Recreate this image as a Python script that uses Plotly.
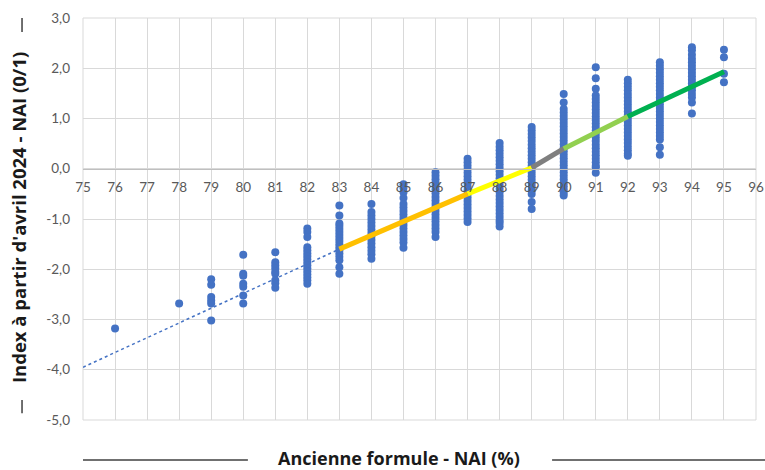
import plotly.graph_objects as go

# ---- data ----
col_76 = [-3.18]
col_78 = [-2.68]
col_79 = [-2.20, -2.31, -2.55, -2.62, -2.68, -3.02]
col_80 = [-1.71, -2.09, -2.13, -2.29, -2.35, -2.52, -2.68]
col_81 = [-1.66, -1.86, -1.92, -1.98, -2.05, -2.09, -2.22, -2.28, -2.37]
col_82 = [-1.19, -1.26, -1.36, -1.56, -1.62, -1.68, -1.74, -1.80, -1.86, -1.92,
          -1.98, -2.04, -2.10, -2.16, -2.22, -2.29]
col_83 = [-0.73, -0.93, -1.09, -1.14, -1.20, -1.26, -1.32, -1.38, -1.44, -1.50,
          -1.56, -1.62, -1.68, -1.75, -1.82, -1.96, -2.09]
col_84 = [-0.70, -0.86, -0.93, -1.00, -1.07, -1.14, -1.21, -1.28, -1.35, -1.42,
          -1.49, -1.56, -1.63, -1.70, -1.79]
col_85 = [-0.31, -0.38, -0.47, -0.58, -0.70, -0.77, -0.84, -0.91, -0.98, -1.05,
          -1.12, -1.19, -1.26, -1.33, -1.40, -1.47, -1.57]
col_86 = [-0.07, -0.14, -0.21, -0.28, -0.35, -0.42, -0.49, -0.56, -0.63, -0.70,
          -0.77, -0.84, -0.91, -0.98, -1.05, -1.12, -1.19, -1.26, -1.36]
col_87 = [0.20, 0.13, 0.06, -0.01, -0.08, -0.15, -0.22, -0.29, -0.36, -0.43,
          -0.50, -0.57, -0.64, -0.71, -0.78, -0.85, -0.92, -0.99, -1.06]
col_88 = [0.51, 0.44, 0.37, 0.30, 0.23, 0.16, 0.09, 0.02, -0.05, -0.12, -0.19,
          -0.26, -0.33, -0.40, -0.47, -0.54, -0.61, -0.68, -0.75, -0.82, -0.89,
          -0.96, -1.03, -1.08, -1.15]
col_89 = [0.83, 0.76, 0.69, 0.62, 0.55, 0.48, 0.41, 0.34, 0.27, 0.20, 0.13, 0.06,
          -0.01, -0.08, -0.15, -0.22, -0.29, -0.36, -0.43, -0.50, -0.66, -0.80]
col_90 = [1.49, 1.32, 1.19, 1.12, 1.05, 0.98, 0.91, 0.84, 0.77, 0.70, 0.63, 0.56,
          0.49, 0.42, 0.35, 0.28, 0.21, 0.14, 0.07, 0.00, -0.07, -0.14, -0.21,
          -0.28, -0.35, -0.42, -0.48, -0.53]
col_91 = [2.02, 1.80, 1.59, 1.46, 1.39, 1.32, 1.25, 1.18, 1.11, 1.04, 0.97, 0.90,
          0.83, 0.76, 0.69, 0.62, 0.55, 0.48, 0.41, 0.34, 0.27, 0.20, 0.13, 0.06,
          0.03, -0.08]
col_92 = [1.77, 1.70, 1.63, 1.56, 1.49, 1.42, 1.35, 1.28, 1.21, 1.14, 1.07, 1.00,
          0.93, 0.86, 0.79, 0.72, 0.65, 0.58, 0.51, 0.44, 0.37, 0.30, 0.26]
col_93 = [2.12, 2.05, 1.98, 1.91, 1.84, 1.77, 1.70, 1.63, 1.56, 1.49, 1.42, 1.35,
          1.28, 1.21, 1.14, 1.07, 1.00, 0.93, 0.86, 0.79, 0.72, 0.65, 0.58, 0.43,
          0.28]
col_94 = [2.42, 2.36, 2.27, 2.19, 2.12, 2.05, 1.98, 1.91, 1.84, 1.77, 1.70, 1.63,
          1.56, 1.49, 1.42, 1.32, 1.10]
col_95 = [2.37, 2.22, 1.89, 1.72]

column_x = [76, 78, 79, 80, 81, 82, 83, 84, 85, 86, 87, 88, 89, 90, 91, 92, 93, 94, 95]
column_y = [col_76, col_78, col_79, col_80, col_81, col_82, col_83, col_84, col_85,
            col_86, col_87, col_88, col_89, col_90, col_91, col_92, col_93, col_94,
            col_95]

# dotted trend line (left part)
trend_x = [75, 83]
trend_y = [-3.95, -1.60]

# coloured segments
seg_x = [83, 87, 89, 90, 92, 95]
seg_y = [-1.60, -0.50, 0.02, 0.40, 1.04, 1.93]
seg_colors = ["#FFC000", "#FFFF00", "#7F7F7F", "#92D050", "#00B050"]

x_ticks = list(range(75, 97))
x_ticktext = [str(v) for v in x_ticks]
y_ticks = [-5, -4, -3, -2, -1, 0, 1, 2, 3]
y_ticktext = ["-5,0", "-4,0", "-3,0", "-2,0", "-1,0", "0,0", "1,0", "2,0", "3,0"]

x_title = "Ancienne formule - NAI (%)"
y_title = "Index à partir d'avril 2024 - NAI (0/1)"

# ---- figure ----
fig = go.Figure()

px, py = [], []
for xv, ys in zip(column_x, column_y):
    px.extend([xv] * len(ys))
    py.extend(ys)

fig.add_trace(go.Scatter(x=px, y=py, mode="markers",
                         marker=dict(size=8, color="#4472C4"),
                         showlegend=False, hoverinfo="skip"))

fig.add_trace(go.Scatter(x=trend_x, y=trend_y, mode="lines",
                         line=dict(color="#4472C4", width=1.5, dash="dot"),
                         showlegend=False, hoverinfo="skip"))

for i, c in enumerate(seg_colors):
    fig.add_trace(go.Scatter(x=seg_x[i:i + 2], y=seg_y[i:i + 2], mode="lines",
                             line=dict(color=c, width=5),
                             showlegend=False, hoverinfo="skip"))

tick_font = dict(family="Lato", size=13.5, color="#595959")
title_font = dict(family="Open Sans", size=18, color="#1A1A1A")
ytitle_font = dict(family="Open Sans", size=18.5, color="#1A1A1A")

fig.update_layout(
    width=765, height=470,
    margin=dict(l=83, r=9, t=18, b=50),
    plot_bgcolor="white", paper_bgcolor="white",
    xaxis=dict(range=[75, 96], tickvals=x_ticks, ticktext=x_ticktext,
               showgrid=True, gridcolor="#D9D9D9", gridwidth=1,
               zeroline=False, anchor="free", position=0.625,
               showline=True, linecolor="#BFBFBF", linewidth=1,
               ticks="", tickfont=tick_font, ticklabelstandoff=6,
               ticklabeloverflow="allow", automargin=False),
    yaxis=dict(range=[-5, 3], tickvals=y_ticks, ticktext=y_ticktext,
               showgrid=True, gridcolor="#D9D9D9", gridwidth=1,
               zeroline=False, ticks="", tickfont=tick_font,
               ticklabelstandoff=12, domain=[0, 1], automargin=False),
    shapes=[
        dict(type="rect", xref="paper", yref="paper", x0=0, x1=1, y0=0, y1=1,
             line=dict(color="#D9D9D9", width=1), layer="below"),
        dict(type="line", xref="paper", yref="paper", x0=0, x1=0.245,
             y0=-0.0995, y1=-0.0995, line=dict(color="#404040", width=1.5)),
        dict(type="line", xref="paper", yref="paper", x0=0.697, x1=1.02,
             y0=-0.0995, y1=-0.0995, line=dict(color="#404040", width=1.5)),
        dict(type="line", xref="paper", yref="paper", x0=-0.0906, x1=-0.0906,
             y0=0.965, y1=1.0, line=dict(color="#404040", width=1.5)),
        dict(type="line", xref="paper", yref="paper", x0=-0.0906, x1=-0.0906,
             y0=0.017, y1=0.05, line=dict(color="#404040", width=1.5)),
    ],
    annotations=[
        dict(text="<b>" + x_title + "</b>", xref="paper", yref="paper",
             x=0.469, y=-0.094, showarrow=False, xanchor="center",
             yanchor="middle", font=title_font),
        dict(text="<b>" + y_title + "</b>", xref="paper", yref="paper",
             x=-0.095, y=0.5025, showarrow=False, xanchor="center",
             yanchor="middle", textangle=-90, font=ytitle_font),
    ],
)

fig.write_html(
    "out.html",
    config={"displayModeBar": False},
    post_script="document.body.style.margin='0';document.body.style.overflow='hidden';",
)
